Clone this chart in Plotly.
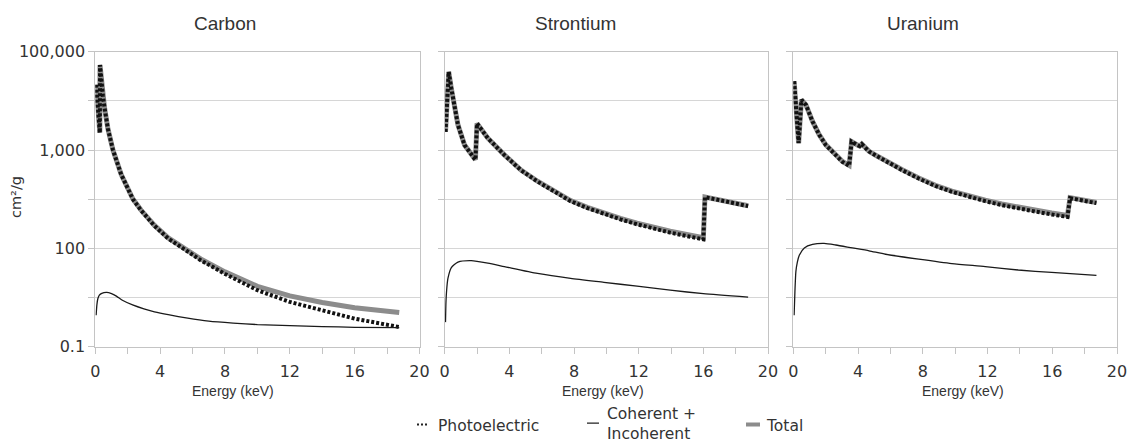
import plotly.graph_objects as go

W, H = 1128, 443

# ---------------- data (cm²/g vs keV) ----------------
panel_titles = ["Carbon", "Strontium", "Uranium"]

carbon_photo_e = [0.05, 0.28, 0.29, 0.37, 0.47, 0.57, 0.78, 1.09, 1.6, 2.32, 2.83, 3.65,
                  4.5, 5.5, 6.5, 8, 10, 12, 14, 16, 18.75]
carbon_photo = [21400, 2240, 53700, 25100, 12600, 7240, 2690, 1000, 316, 100, 58.9, 28.8,
                15.8, 9.55, 5.75, 3.02, 1.41, 0.813, 0.537, 0.372, 0.251]
carbon_total = [21400, 2240, 53700, 25100, 12600, 7240, 2690, 1000, 317, 101, 59.5, 29.3,
                16.3, 9.94, 6.10, 3.33, 1.69, 1.08, 0.794, 0.620, 0.496]
carbon_coh_e = [0.05, 0.1, 0.16, 0.25, 0.4, 0.7, 1.0, 1.3, 1.7, 2.3, 3.0, 3.65, 4.5,
                5.7, 7, 8.5, 10, 12, 14, 16, 18.75]
carbon_coh = [0.437, 0.72, 0.955, 1.12, 1.22, 1.27, 1.20, 1.07, 0.87, 0.708, 0.589, 0.513,
              0.447, 0.380, 0.331, 0.302, 0.282, 0.269, 0.257, 0.248, 0.245]

sr_photo_e = [0.05, 0.25, 0.41, 0.62, 0.82, 1.23, 1.64, 1.9, 2.0, 2.15, 2.67, 3.69, 4.72,
              5.74, 6.77, 7.79, 8.82, 9.85, 10.87, 11.9, 12.9, 13.95, 14.97, 16.0, 16.1, 18.77]
sr_photo = [2340, 38900, 17800, 7080, 3240, 1260, 794, 631, 3470, 2950, 1740, 794, 389,
            229, 141, 91.2, 66.1, 50.1, 38.9, 30.9, 25.1, 20.9, 17.8, 15.3, 110, 72.4]
sr_total = [2340, 38900, 17800, 7085, 3245, 1266, 800, 637, 3476, 2956, 1745, 798, 393,
            232, 144, 93.6, 68.2, 52.1, 40.7, 32.6, 26.6, 22.3, 19.1, 16.5, 111, 73.4]
sr_coh_e = [0.05, 0.08, 0.12, 0.2, 0.41, 0.82, 1.64, 2.67, 3.69, 5.74, 7.79, 9.85, 11.9,
            13.95, 16.0, 18.77]
sr_coh = [0.316, 0.832, 1.41, 2.45, 4.07, 5.25, 5.62, 5.01, 4.27, 3.09, 2.45, 2.04, 1.70,
          1.41, 1.20, 1.02]

u_photo_e = [0.05, 0.2, 0.33, 0.5, 0.78, 1.19, 1.6, 2.01, 2.63, 3.04, 3.45, 3.6, 3.96, 4.1,
             4.23, 4.68, 5.09, 5.7, 6.73, 7.75, 8.78, 9.8, 10.83, 11.86, 12.88, 13.9, 14.93,
             15.96, 16.94, 17.1, 18.73]
u_photo = [25100, 4000, 1380, 10500, 8320, 3800, 2040, 1260, 794, 575, 479, 1480, 1260, 1200,
           1320, 933, 776, 589, 389, 263, 186, 141, 112, 91.2, 75.9, 64.6, 56.2, 49.0, 43.7,
           105, 83.2]
u_total = [25100, 4003, 1385, 10510, 8331, 3812, 2052, 1273, 806, 586, 489, 1490, 1270, 1210,
           1329, 942, 784, 597, 396, 269, 191, 146, 116, 95.5, 79.8, 68.2, 59.6, 52.2, 46.8,
           108, 86.0]
u_coh_e = [0.05, 0.1, 0.16, 0.25, 0.37, 0.68, 1.19, 1.9, 2.63, 3.65, 4.68, 5.7, 7.75, 9.8,
           11.86, 13.9, 15.96, 18.73]
u_coh = [0.437, 1.32, 3.39, 5.25, 7.24, 10.2, 12.0, 12.6, 11.7, 10.2, 8.91, 7.59, 6.03, 4.90,
         4.27, 3.63, 3.24, 2.82]

y_tickvals = [0.1, 1, 10, 100, 1000, 10000, 100000]
y_ticktext = ["0.1", "", "100", "", "1,000", "", "100,000"]
x_tickvals = [0, 4, 8, 12, 16, 20]

series_names = ["Photoelectric", "Coherent +<br>Incoherent", "Total"]

panels = [
    (carbon_photo_e, carbon_photo, carbon_total, carbon_coh_e, carbon_coh),
    (sr_photo_e, sr_photo, sr_total, sr_coh_e, sr_coh),
    (u_photo_e, u_photo, u_total, u_coh_e, u_coh),
]

# ---------------- layout geometry (pixels) ----------------
x_px = [(95.3, 419.5), (444.7, 768.0), (793.3, 1117.0)]
y_top, y_bot = 51.7, 346.7
title_x = [225, 575, 923]
xlabel_x = [233, 603, 963]

GRID = "#d6d6d6"
AXIS = "#c4c4c4"
TXT = "#333333"

TOTAL_LINE = dict(color="#8c8c8c", width=5)
PHOTO_LINE = dict(color="#111111", width=4, dash="3px,2px")
COH_LINE = dict(color="#1a1a1a", width=1.3, shape="spline", smoothing=0.6)

fig = go.Figure()

for i, (pe, pv, tv, ce, cv) in enumerate(panels):
    xa = "x" if i == 0 else f"x{i+1}"
    ya = "y" if i == 0 else f"y{i+1}"
    fig.add_trace(go.Scatter(x=pe, y=tv, mode="lines", name=series_names[2],
                             legendgroup="total", showlegend=False,
                             line=TOTAL_LINE, xaxis=xa, yaxis=ya))
    fig.add_trace(go.Scatter(x=pe, y=pv, mode="lines", name=series_names[0],
                             legendgroup="photo", showlegend=False,
                             line=PHOTO_LINE, xaxis=xa, yaxis=ya))
    fig.add_trace(go.Scatter(x=ce, y=cv, mode="lines", name=series_names[1],
                             legendgroup="coh", showlegend=False,
                             line=COH_LINE, xaxis=xa, yaxis=ya))

# legend keys (legend-only entries; short symbols as in the reference)
fig.add_trace(go.Scatter(x=[None], y=[None], mode="lines", name=series_names[0],
                         legendgroup="photo", legend="legend",
                         line=dict(color="#222222", width=2,
                                   dash="0px,14px,2px,2px,2px,2px,2px,20px")))
fig.add_trace(go.Scatter(x=[None], y=[None], mode="lines", name=series_names[1],
                         legendgroup="coh", legend="legend2",
                         line=dict(color="#222222", width=1.3, dash="0px,15px,12px,30px")))
fig.add_trace(go.Scatter(x=[None], y=[None], mode="lines", name=series_names[2],
                         legendgroup="total", legend="legend3",
                         line=dict(color="#8c8c8c", width=4, dash="0px,14px,14px,30px")))

LEG_FONT = dict(family="DejaVu Sans", size=15.5, color=TXT)


def legend_at(text_left_px, center_px):
    return dict(x=(text_left_px - 40) / W, xanchor="left", y=1 - center_px / H,
                yanchor="middle", font=LEG_FONT, itemwidth=30, bgcolor="rgba(0,0,0,0)",
                orientation="h")


layout = dict(
    width=W, height=H,
    margin=dict(l=0, r=0, t=0, b=0, autoexpand=False),
    paper_bgcolor="white", plot_bgcolor="white",
    showlegend=True,
    legend=legend_at(438, 425),
    legend2=legend_at(607, 423.5),
    legend3=legend_at(767, 425),
    font=dict(family="DejaVu Sans", color=TXT),
)

annotations = []
for i in range(3):
    sfx = "" if i == 0 else str(i + 1)
    x0, x1 = x_px[i]
    layout["xaxis" + sfx] = dict(
        domain=[x0 / W, x1 / W], anchor="y" + sfx, range=[0, 20], automargin=False,
        tickmode="array", tickvals=x_tickvals, ticks="outside", ticklen=6, tickcolor=AXIS,
        minor=dict(tickmode="array", tickvals=[2, 6, 10, 14, 18], ticks="outside",
                   ticklen=6, tickcolor=AXIS, showgrid=False),
        showgrid=False, zeroline=False, showline=True, linecolor=AXIS, linewidth=1, mirror=True,
        tickfont=dict(family="DejaVu Sans", size=16, color=TXT), ticklabelstandoff=4,
        fixedrange=True,
    )
    layout["yaxis" + sfx] = dict(
        domain=[1 - y_bot / H, 1 - y_top / H], anchor="x" + sfx, type="log", range=[-1, 5],
        automargin=False,
        tickmode="array", tickvals=y_tickvals,
        ticktext=y_ticktext if i == 0 else [""] * len(y_tickvals),
        ticks="outside", ticklen=6, tickcolor=AXIS,
        showgrid=True, gridcolor=GRID, gridwidth=1, zeroline=False,
        showline=True, linecolor=AXIS, linewidth=1, mirror=True,
        tickfont=dict(family="DejaVu Sans", size=16, color=TXT), ticklabelstandoff=0,
        fixedrange=True,
    )
    annotations.append(dict(text=panel_titles[i], x=title_x[i] / W, y=1 - 24 / H,
                            xref="paper", yref="paper", xanchor="center", yanchor="middle",
                            showarrow=False,
                            font=dict(family="Liberation Sans", size=19, color=TXT)))
    annotations.append(dict(text="Energy (keV)", x=xlabel_x[i] / W, y=1 - 391 / H,
                            xref="paper", yref="paper", xanchor="center", yanchor="middle",
                            showarrow=False,
                            font=dict(family="Liberation Sans", size=14, color=TXT)))

annotations.append(dict(text="cm²/g", x=16 / W, y=1 - 197 / H, xref="paper", yref="paper",
                        xanchor="center", yanchor="middle", textangle=-90, showarrow=False,
                        font=dict(family="DejaVu Sans", size=14.5, color=TXT)))
layout["annotations"] = annotations

fig.update_layout(**layout)
fig.write_html("out.html")
